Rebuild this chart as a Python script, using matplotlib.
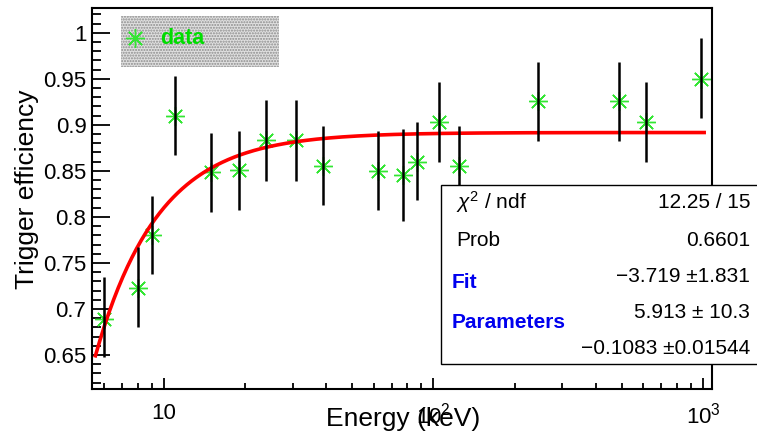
import numpy as np
import matplotlib
matplotlib.use('Agg')
import matplotlib.pyplot as plt
import matplotlib.patches as mpatches
from matplotlib.ticker import FixedLocator, NullFormatter

plt.rcParams['font.family'] = ['Liberation Sans', 'DejaVu Sans']
plt.rcParams['mathtext.fontset'] = 'custom'
plt.rcParams['mathtext.rm'] = 'Liberation Sans'
plt.rcParams['mathtext.it'] = 'Liberation Sans:italic'
plt.rcParams['hatch.linewidth'] = 1.0

# ── data ──────────────────────────────────────────────────────────────────────
energy = [6.0, 8.0, 9.0, 11.0, 15.0, 19.0, 24.0, 31.0, 39.0,
          62.5, 77.0, 87.0, 105.0, 124.0, 245.0, 490.0, 617.0, 986.0]
eff = [0.689, 0.723, 0.780, 0.910, 0.849, 0.851, 0.884, 0.884, 0.855,
       0.850, 0.846, 0.860, 0.903, 0.855, 0.926, 0.926, 0.903, 0.950]
err_lo = [0.041, 0.043, 0.042, 0.043, 0.044, 0.043, 0.045, 0.045, 0.042,
          0.043, 0.050, 0.042, 0.043, 0.043, 0.043, 0.043, 0.043, 0.042]
err_hi = [0.046, 0.044, 0.043, 0.043, 0.042, 0.042, 0.043, 0.043, 0.044,
          0.043, 0.050, 0.043, 0.044, 0.044, 0.042, 0.042, 0.044, 0.044]

# fit parameters from the stats box
fit_p = [-3.719, 5.913, -0.1083]
fit_err = [1.831, 10.3, 0.01544]
fit_range = [5.57, 1010.0]
chi2, ndf, prob = 12.25, 15, 0.6601

yticks = [0.65, 0.7, 0.75, 0.8, 0.85, 0.9, 0.95, 1.0]
ytick_labels = ['0.65', '0.7', '0.75', '0.8', '0.85', '0.9', '0.95', '1']
xticks = [10, 100, 1000]
xtick_labels = ['10', '$10^{2}$', '$10^{3}$']

# ── figure ────────────────────────────────────────────────────────────────────
W, H = 757, 443
fig = plt.figure(figsize=(W / 100, H / 100), dpi=100)
ax = fig.add_axes([92 / W, 1 - 389 / H, (712 - 92) / W, (389 - 8) / H])

green = '#33e633'
star = (8, 2, 0)

ax.plot(energy, eff, linestyle='none', marker=star, markersize=13.5,
        markeredgecolor=green, markeredgewidth=1.0, zorder=2)

e_fit = np.logspace(np.log10(fit_range[0]), np.log10(fit_range[1]), 400)
f_fit = 1 + fit_p[2] - fit_p[1] * e_fit ** (fit_p[0] / 2)
ax.plot(e_fit, f_fit, color='red', lw=2.6, zorder=3)

ax.errorbar(energy, eff, yerr=[err_lo, err_hi], fmt='none', ecolor='black',
            elinewidth=1.8, capsize=0, zorder=4)

ax.set_xscale('log')
ax.set_xlim(5.41, 1080)
ax.set_ylim(0.613, 1.027)

ax.yaxis.set_major_locator(FixedLocator(yticks))
ax.set_yticklabels(ytick_labels)
ax.yaxis.set_minor_locator(FixedLocator(np.arange(0.62, 1.03, 0.01)))
ax.xaxis.set_major_locator(FixedLocator(xticks))
ax.set_xticklabels(xtick_labels)
minors = [m * d for d in (1, 10, 100) for m in range(2, 10)]
ax.xaxis.set_minor_locator(FixedLocator(minors))
ax.xaxis.set_minor_formatter(NullFormatter())

ax.tick_params(axis='y', which='major', direction='in', length=13, width=1.3,
               labelsize=16, pad=4)
ax.tick_params(axis='y', which='minor', direction='in', length=6.5, width=1.3)
ax.tick_params(axis='x', which='major', direction='in', length=8, width=1.3,
               labelsize=16, pad=10)
ax.tick_params(axis='x', which='minor', direction='in', length=4.5, width=1.3)
for s in ax.spines.values():
    s.set_linewidth(1.5)

ax.set_xlabel('Energy (keV)', fontsize=19, va='baseline', ha='center')
ax.xaxis.set_label_coords(403 / W, 1 - 426 / H, transform=fig.transFigure)
ax.set_ylabel('Trigger efficiency', fontsize=19, va='center', ha='center')
ax.yaxis.set_label_coords(27 / W, 1 - 189 / H, transform=fig.transFigure)

# legend box
leg = mpatches.Rectangle((121 / W, 1 - 67 / H), (279 - 121) / W, (67 - 16) / H,
                         transform=fig.transFigure, facecolor='#e0e0e0',
                         edgecolor='#8c8c8c', hatch='......', linewidth=0,
                         zorder=5)
fig.add_artist(leg)
fig.lines.append(plt.Line2D([135 / W], [1 - 38 / H], transform=fig.transFigure,
                            marker=star, markersize=13.5, markeredgecolor=green,
                            markeredgewidth=1.0, linestyle='none', zorder=6))
fig.text(160 / W, 1 - 39 / H, 'data', color='#00dd00', fontsize=15.5,
         fontweight='bold', va='center', ha='left', zorder=6)

# stats box
box = mpatches.Rectangle((441 / W, 1 - 364 / H), 330 / W, (364 - 185) / H,
                         transform=fig.transFigure, facecolor='white',
                         edgecolor='black', linewidth=1.0, zorder=7)
fig.add_artist(box)


def pm(v, e, sep=' \u00b1'):
    return f'{v:g}'.replace('-', '\u2212') + sep + f'{e:g}'


rows = [
    (202, '$\\chi^{2}$ / ndf', f'{chi2:g} / {ndf}'),
    (240, 'Prob', f'{prob:g}'),
    (277, None, pm(fit_p[0], fit_err[0])),
    (312, None, pm(fit_p[1], fit_err[1], ' \u00b1 ')),
    (348, None, pm(fit_p[2], fit_err[2])),
]
for y, lab, val in rows:
    if lab:
        fig.text(456 / W, 1 - y / H, lab, fontsize=15, va='center', ha='left',
                 zorder=8)
    fig.text(750 / W, 1 - y / H, val, fontsize=15, va='center', ha='right',
             zorder=8)
fig.text(452 / W, 1 - 283 / H, 'Fit', fontsize=15, color='#0000ee',
         fontweight='bold', va='center', ha='left', zorder=8)
fig.text(452 / W, 1 - 322 / H, 'Parameters', fontsize=15, color='#0000ee',
         fontweight='bold', va='center', ha='left', zorder=8)

fig.savefig('out.png', dpi=100)
